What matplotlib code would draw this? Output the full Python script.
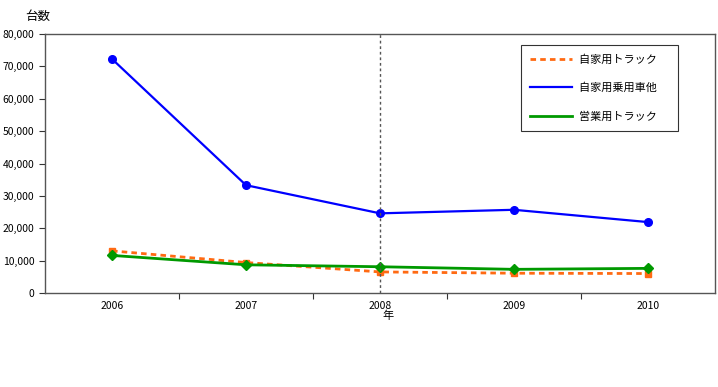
import matplotlib
matplotlib.use('Agg')
import matplotlib.pyplot as plt
import numpy as np
from matplotlib.ticker import FuncFormatter

plt.rcParams['font.family'] = ['Noto Sans CJK JP', 'DejaVu Sans']

years = ['2006', '2007', '2008', '2009', '2010']
own_truck = [13000, 9400, 6500, 6100, 6000]        # 自家用トラック
own_car = [72300, 33300, 24600, 25700, 21900]       # 自家用乗用車他
biz_truck = [11600, 8700, 8100, 7300, 7600]         # 営業用トラック

x = np.arange(len(years)) + 0.5

fig = plt.figure(figsize=(7.18, 3.87), dpi=100)
ax = fig.add_axes([0.0627, 0.243, 0.9331, 0.669])

ax.plot(x, own_truck, color='#ff6a13', linestyle=(0, (2, 1.5)), linewidth=2,
        marker='s', markersize=5, label='自家用トラック\u3000')
ax.plot(x, own_car, color='#0000ff', linewidth=1.6,
        marker='o', markersize=5.5, label='自家用乗用車他\u3000')
ax.plot(x, biz_truck, color='#009900', linewidth=2,
        marker='D', markersize=5, label='営業用トラック\u3000')

ax.axvline(2.5, color='#555555', linestyle=(0, (2, 2)), linewidth=1)

ax.set_xlim(0, 5)
ax.set_ylim(0, 80000)
ax.set_yticks(np.arange(0, 80001, 10000))
ax.yaxis.set_major_formatter(FuncFormatter(lambda v, p: f'{int(v):,}'))
ax.set_xticks([1, 2, 3, 4])
ax.set_xticklabels([])
ax.set_xticks(x, minor=True)
ax.set_xticklabels(years, minor=True)
ax.tick_params(axis='x', which='minor', length=0, pad=6, labelsize=7.5)
ax.tick_params(axis='x', which='major', length=4, direction='out', color='#333333')
ax.tick_params(axis='y', length=4, labelsize=7.5, color='#333333')

for s in ax.spines.values():
    s.set_color('#555555')
    s.set_linewidth(1)

leg = ax.legend(loc='upper left', bbox_to_anchor=(0.7104, 0.9575), handlelength=3.7,
                fontsize=8, frameon=True, fancybox=False, edgecolor='black',
                borderpad=0.85, labelspacing=1.6, handletextpad=0.7,
                borderaxespad=0)
for h in leg.legend_handles:
    h.set_marker('')
leg.get_frame().set_linewidth(0.8)

fig.text(0.035, 0.958, '台数', fontsize=9, ha='left', va='center')
fig.text(0.541, 0.183, '年', fontsize=8, ha='center', va='center')

fig.savefig('out.png', dpi=100)
